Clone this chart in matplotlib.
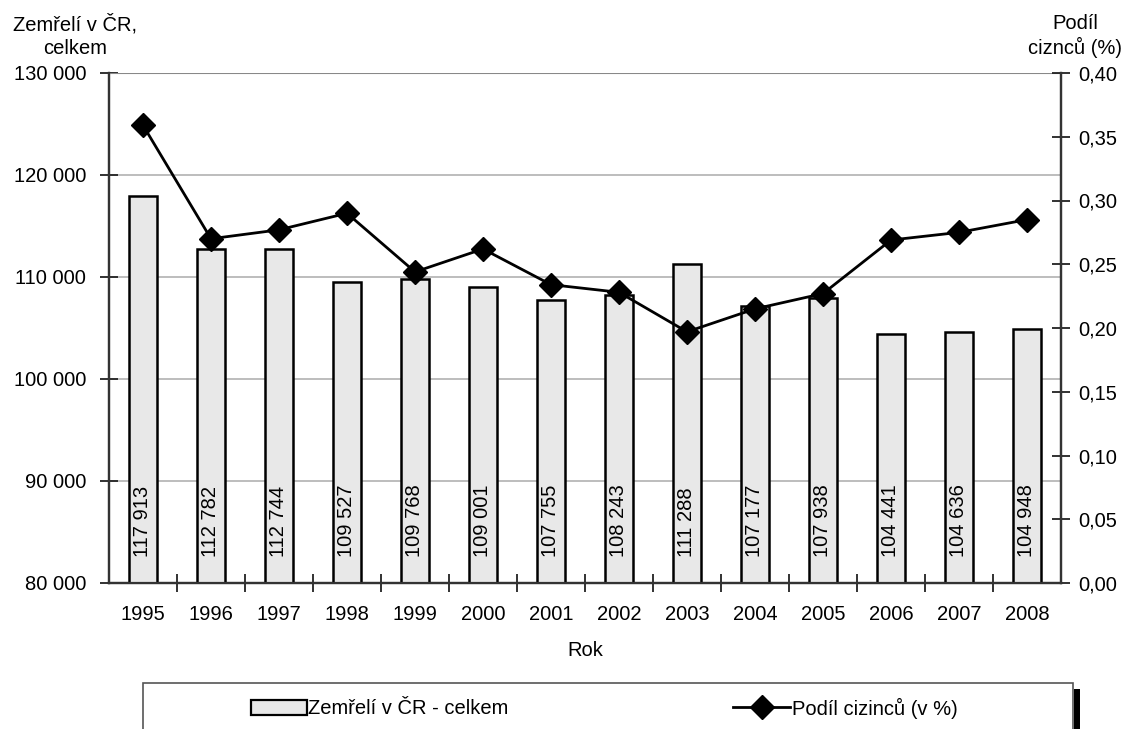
import matplotlib
matplotlib.use("Agg")
import matplotlib.pyplot as plt
from matplotlib.patches import Rectangle
from matplotlib.lines import Line2D

plt.rcParams['font.family'] = ['Liberation Sans', 'DejaVu Sans']

years = ['1995', '1996', '1997', '1998', '1999', '2000', '2001',
         '2002', '2003', '2004', '2005', '2006', '2007', '2008']
deaths = [117913, 112782, 112744, 109527, 109768, 109001, 107755,
          108243, 111288, 107177, 107938, 104441, 104636, 104948]
share = [0.359, 0.270, 0.277, 0.290, 0.244, 0.262, 0.234,
         0.228, 0.197, 0.215, 0.227, 0.269, 0.275, 0.285]

left_ticks = [80000, 90000, 100000, 110000, 120000, 130000]
right_ticks = [0.0, 0.05, 0.10, 0.15, 0.20, 0.25, 0.30, 0.35, 0.40]

bar_label = 'Zemřelí v ČR - celkem'
line_label = 'Podíl cizinců (v %)'
left_title = 'Zemřelí v ČR,\ncelkem'
right_title = 'Podíl\nciznců (%)'
xlabel = 'Rok'

FS = 14.5
W, H = 1128, 729
fig = plt.figure(figsize=(W / 100, H / 100), dpi=100)
ax = fig.add_axes([109 / W, 1 - 583 / H, (1061 - 109) / W, (583 - 73) / H])

def fmt_int(v):
    return f"{v:,}".replace(',', ' ')

x = list(range(len(years)))
bars = ax.bar(x, deaths, width=0.41, color='#e8e8e8', edgecolor='black',
              linewidth=1.8, zorder=3)
ax.set_ylim(80000, 130000)
ax.set_xlim(-0.5, len(years) - 0.5)
ax.set_yticks(left_ticks)
ax.set_yticklabels([fmt_int(v) for v in left_ticks], fontsize=FS)
ax.set_xticks(x)
ax.set_xticklabels(years, fontsize=FS)
ax.set_xticks([i + 0.5 for i in x[:-1]], minor=True)
ax.tick_params(axis='x', which='major', length=0, pad=16)
ax.tick_params(axis='x', which='minor', length=13, width=1.3, direction='inout', color='#222222')
ax.tick_params(axis='y', length=13, width=1.3, direction='inout', color='#222222', pad=10)
ax.grid(axis='y', color='#b8b8b8', linewidth=1.3, zorder=0)
ax.set_axisbelow(True)
for s in ['left', 'bottom', 'right']:
    ax.spines[s].set_color('#333333')
    ax.spines[s].set_linewidth(1.6)
ax.spines['top'].set_visible(False)

for xi, v in zip(x, deaths):
    ax.annotate(fmt_int(v), xy=(xi, 80000), xytext=(0, 19), textcoords='offset points',
                rotation=90, ha='center', va='bottom', fontsize=FS, zorder=5)

ax2 = ax.twinx()
ax2.set_ylim(0, 0.40)
ax2.set_yticks(right_ticks)
ax2.set_yticklabels([f"{v:.2f}".replace('.', ',') for v in right_ticks], fontsize=FS)
ax2.tick_params(axis='y', length=13, width=1.3, direction='inout', color='#222222', pad=6)
for s in ['left', 'bottom', 'right']:
    ax2.spines[s].set_color('#333333')
    ax2.spines[s].set_linewidth(1.6)
ax2.spines['top'].set_visible(False)
ax2.axhline(0.40, color='#888888', linewidth=1.5, zorder=1)
ax2.plot(x, share, color='black', linewidth=2.0, marker='D', markersize=12,
         markerfacecolor='black', markeredgecolor='black', zorder=6)

fig.text(75 / W, 1 - 36 / H, left_title, ha='center', va='center', fontsize=FS,
         linespacing=1.25)
fig.text(1075 / W, 1 - 36 / H, right_title, ha='center', va='center', fontsize=FS,
         linespacing=1.25)
fig.text(585 / W, 1 - 650 / H, xlabel, ha='center', va='center', fontsize=FS)

# legend box
fig.patches.append(Rectangle((1074 / W, 0), 6 / W, (729 - 689) / H,
                             transform=fig.transFigure, facecolor='black',
                             edgecolor='none'))
fig.patches.append(Rectangle((143 / W, -0.01), (1073 - 143) / W, 0.01 + (729 - 683) / H,
                             transform=fig.transFigure, facecolor='white',
                             edgecolor='#555555', linewidth=1.2))
fig.patches.append(Rectangle((251 / W, 1 - 715 / H), 56 / W, 15 / H,
                             transform=fig.transFigure, facecolor='#e8e8e8',
                             edgecolor='black', linewidth=1.6))
fig.text(308 / W, 1 - 708 / H, bar_label, ha='left', va='center', fontsize=FS)
fig.lines.append(Line2D([733 / W, 790 / W], [1 - 707 / H, 1 - 707 / H],
                        transform=fig.transFigure, color='black', linewidth=2.0))
fig.lines.append(Line2D([761.5 / W], [1 - 707 / H], transform=fig.transFigure,
                        color='black', marker='D', markersize=12))
fig.text(792 / W, 1 - 708 / H, line_label, ha='left', va='center', fontsize=FS)

fig.savefig('out.png', dpi=100)
